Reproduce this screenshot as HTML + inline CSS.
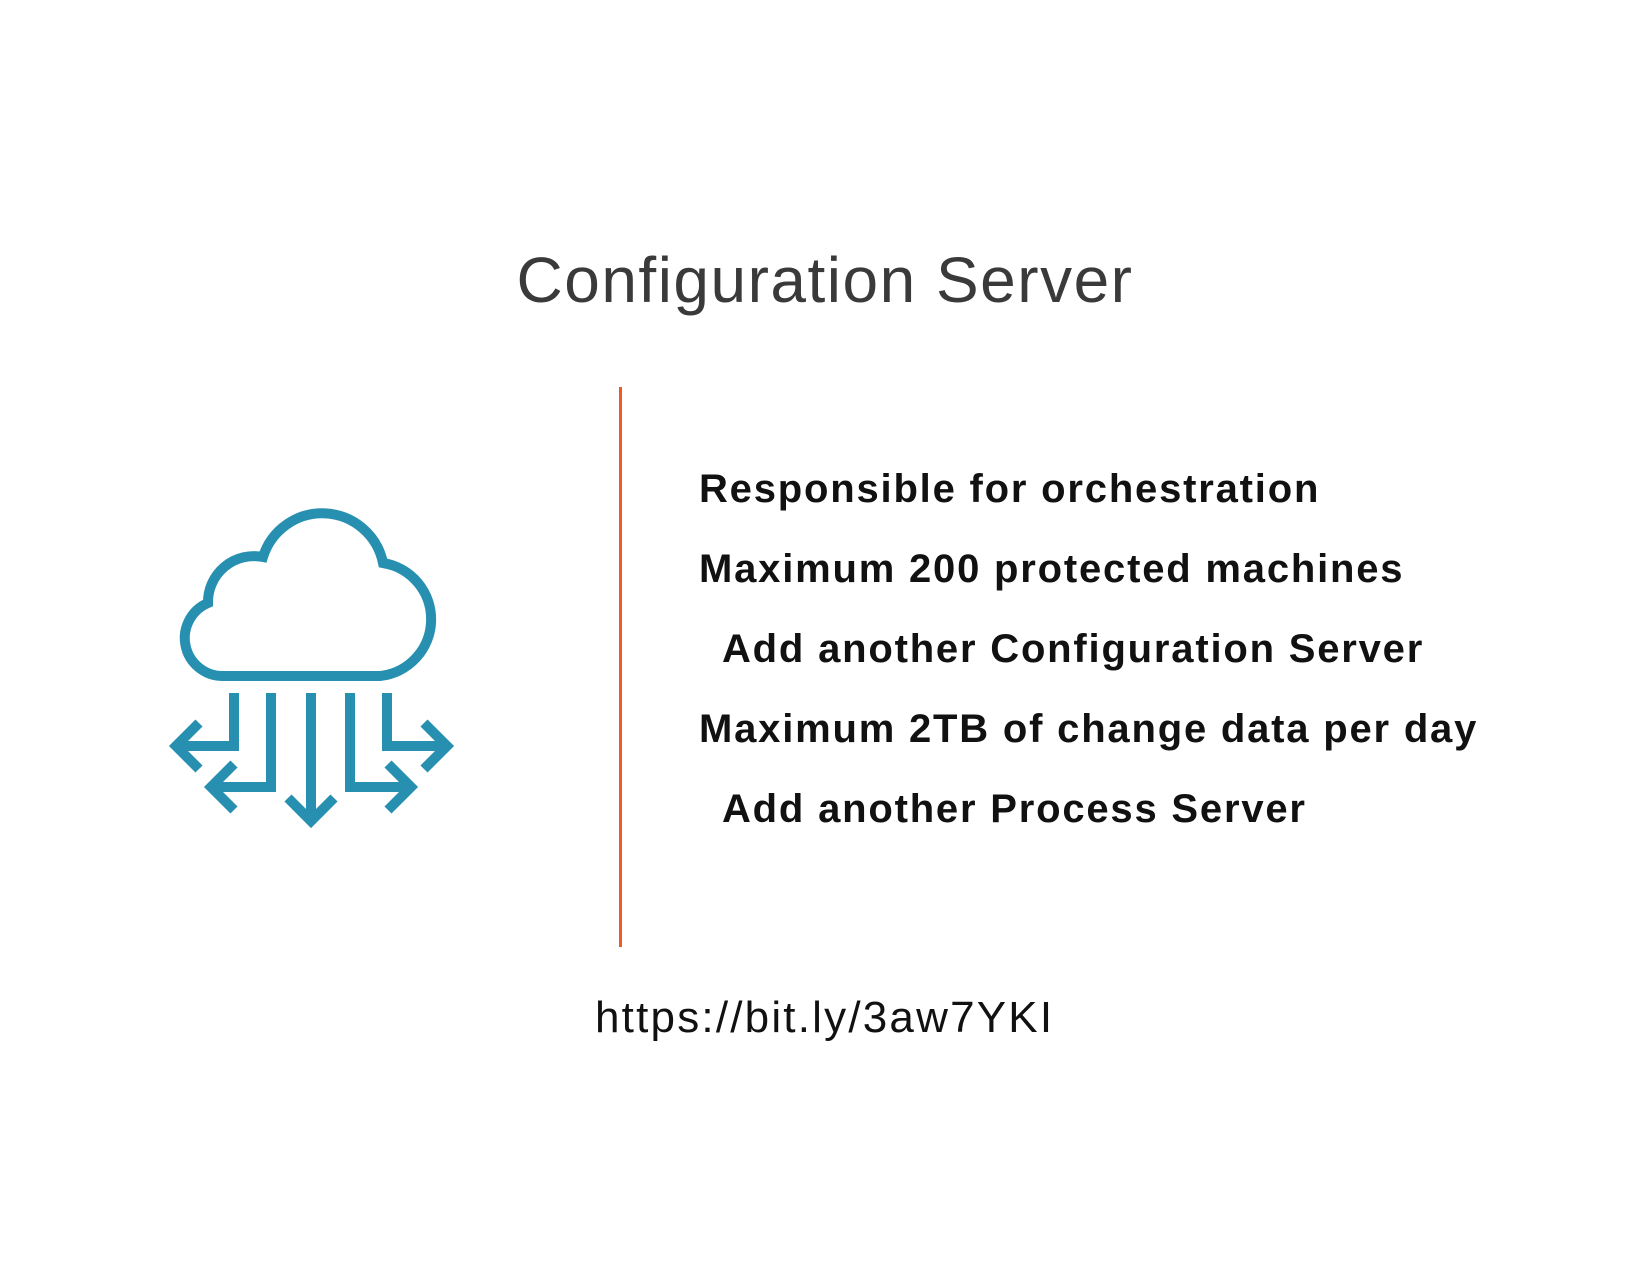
<!DOCTYPE html>
<html><head><meta charset="utf-8"><style>
html,body{margin:0;padding:0;background:#fff;}
body{width:1650px;height:1275px;position:relative;overflow:hidden;font-family:"Liberation Sans",sans-serif;}
.t{position:absolute;white-space:nowrap;}
.title{left:0;width:1650px;text-align:center;top:242px;font-size:64px;letter-spacing:1.5px;color:#3a3a3a;line-height:76px;}
.b{font-weight:bold;font-size:40px;letter-spacing:1.8px;color:#111;line-height:44px;}
</style></head><body>
<div class="t title">Configuration Server</div>
<div style="position:absolute;left:619px;top:387px;width:3px;height:560px;background:#f05a28;"></div>
<div class="t b" style="left:699px;top:467px;">Responsible for orchestration</div>
<div class="t b" style="left:699px;top:547px;">Maximum 200 protected machines</div>
<div class="t b" style="left:722px;top:627px;">Add another Configuration Server</div>
<div class="t b" style="left:699px;top:707px;">Maximum 2TB of change data per day</div>
<div class="t b" style="left:722px;top:787px;">Add another Process Server</div>
<div class="t" style="left:595px;top:993px;font-size:44px;letter-spacing:2.2px;color:#111;line-height:50px;">https://bit.ly/3aw7YKI</div>
<svg style="position:absolute;left:0;top:0" width="1650" height="1275">
<g fill="none" stroke="#2790b0" stroke-width="10" stroke-linejoin="miter">
<path d="M222,676 L380,676 A57,57 0 0 0 383,563 A62,62 0 0 0 263,557 A46,46 0 0 0 208,603 A38,38 0 0 0 222,676 Z"/>
<path d="M311,693 L311,822 M288,798 L311,821 L334,798"/>
<path d="M234,693 L234,746 L177,746 M199,723 L176,746 L199,769"/>
<path d="M271,693 L271,787 L212,787 M234,764 L211,787 L234,810"/>
<path d="M350,693 L350,787 L410,787 M388,764 L411,787 L388,810"/>
<path d="M387,693 L387,746 L446,746 M424,723 L447,746 L424,769"/>
</g>
</svg>
</body></html>
